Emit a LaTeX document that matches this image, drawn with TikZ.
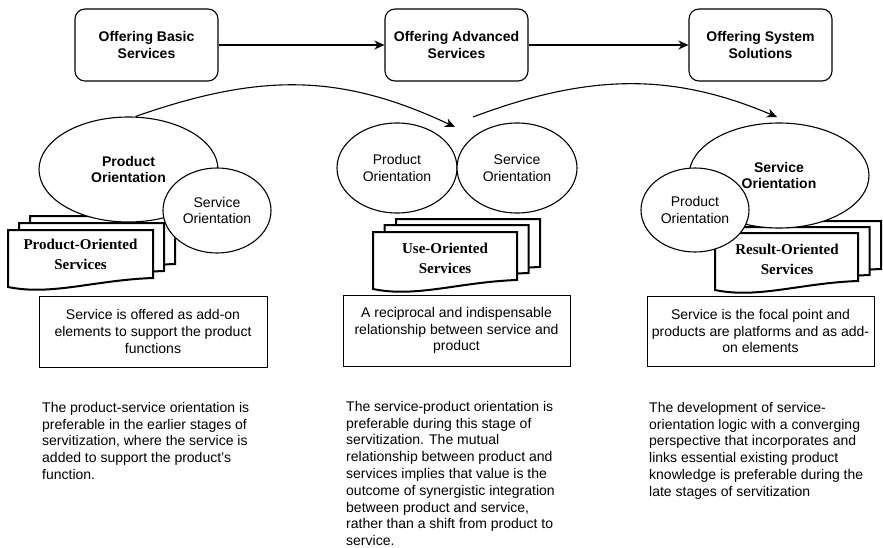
\documentclass[tikz,border=0pt]{standalone}
\usepackage{fontspec}
\setmainfont{Liberation Sans}
\newfontfamily\tnr{Liberation Serif}
\usetikzlibrary{shapes.geometric,arrows.meta}

\newcommand{\docpage}[2]{%
  \begin{scope}[shift={(#1)}]
    \filldraw[docline] (0,0) -- (#2,0) -- (#2,48)
      .. controls ({0.6*#2},50) and ({0.3*#2},66) .. (0,57) -- cycle;
  \end{scope}}

\tikzset{
  txt/.style={font=\fontsize{14}{16.8}\selectfont},
  topbox/.style={draw, rounded corners=10pt, minimum width=143pt, minimum height=72pt,
    align=center, inner sep=0, line width=1.1pt, font=\fontsize{14}{16.8}\selectfont\bfseries},
  oval/.style={draw, ellipse, fill=white, inner sep=0, align=center, line width=1.1pt,
    font=\fontsize{14}{16.8}\selectfont},
  descbox/.style={draw, minimum width=227pt, minimum height=71pt, align=center,
    inner sep=0, line width=1pt, font=\fontsize{14}{16.8}\selectfont},
  note/.style={anchor=north west, align=left, inner sep=0, font=\fontsize{14}{16.8}\selectfont},
  docline/.style={draw, fill=white, line width=2pt, line join=miter},
  doctext/.style={align=center, inner sep=0, font=\fontsize{15}{20}\selectfont\tnr\bfseries},
  conn/.style={-{Stealth[length=10pt,width=9pt,inset=3pt]}, line width=1.1pt},
}

\begin{document}
\begin{tikzpicture}[x=1pt,y=-1pt]
\useasboundingbox (0,0) rectangle (883,548);

% top row
\node[topbox] (b1) at (146.5,45) {Offering Basic\\Services};
\node[topbox] (b2) at (456.5,45) {Offering Advanced\\Services};
\node[topbox] (b3) at (760.5,45) {Offering System\\Solutions};
\draw[conn] (b1) -- (b2);
\draw[conn] (b2) -- (b3);

% left cluster
\docpage{30,216}{145}
\docpage{19,223}{145}
\docpage{8,230}{145}
\node[doctext] (d1) at (80.5,254) {Product-Oriented\\Services};
\node[oval, minimum width=179pt, minimum height=105pt, font=\fontsize{14}{16.8}\selectfont\bfseries] (lo) at (128.5,169.5) {Product\\Orientation};
\node[oval, minimum width=108pt, minimum height=85pt] (ls) at (217,210.5) {Service\\Orientation};

% middle cluster
\docpage{396,219}{144}
\docpage{384.5,225}{144}
\docpage{373,232}{144}
\node[doctext] (d2) at (445,258) {Use-Oriented\\Services};
\node[oval, minimum width=120pt, minimum height=90pt] (mp) at (397,168) {Product\\Orientation};
\node[oval, minimum width=120pt, minimum height=90pt] (ms) at (517,168) {Service\\Orientation};

% right cluster
\docpage{738,221}{143}
\docpage{726.5,227}{143}
\docpage{715,233}{143}
\node[doctext] (d3) at (787,259) {Result-Oriented\\Services};
\node[oval, minimum width=180pt, minimum height=105pt, font=\fontsize{14}{16.8}\selectfont\bfseries] (rs) at (779,175.5) {Service\\Orientation};
\node[oval, minimum width=108pt, minimum height=84pt] (rp) at (695,210) {Product\\Orientation};

% curved arrows
\coordinate (c1) at (455,127);
\coordinate (c2s) at (473,117);
\coordinate (c2e) at (777,117);
\draw[conn] ([xshift=7pt]lo.north) .. controls (260,73) and (340,73) .. (c1);
\draw[conn] (c2s) .. controls (590,73) and (673,73) .. (c2e);

% description boxes
\node[descbox, minimum width=228pt] (t1) at (153,331.5) {Service is offered as add-on\\elements to support the product\\functions};
\node[descbox] (t2) at (456.5,330.5) {A reciprocal and indispensable\\relationship between service and\\product};
\node[descbox, minimum height=70pt] (t3) at (760.5,331) {Service is the focal point and\\products are platforms and as add-\\on elements};

% notes
\node[note] (n1) at (42,402) {The product-service orientation is\\preferable in the earlier stages of\\servitization, where the service is\\added to support the product’s\\function.};
\node[note] (n2) at (346,401) {The service-product orientation is\\preferable during this stage of\\servitization. The mutual\\relationship between product and\\services implies that value is the\\outcome of synergistic integration\\between product and service,\\rather than a shift from product to\\service.};
\node[note] (n3) at (649,402) {The development of service-\\orientation logic with a converging\\perspective that incorporates and\\links essential existing product\\knowledge is preferable during the\\late stages of servitization};
\end{tikzpicture}
\end{document}
